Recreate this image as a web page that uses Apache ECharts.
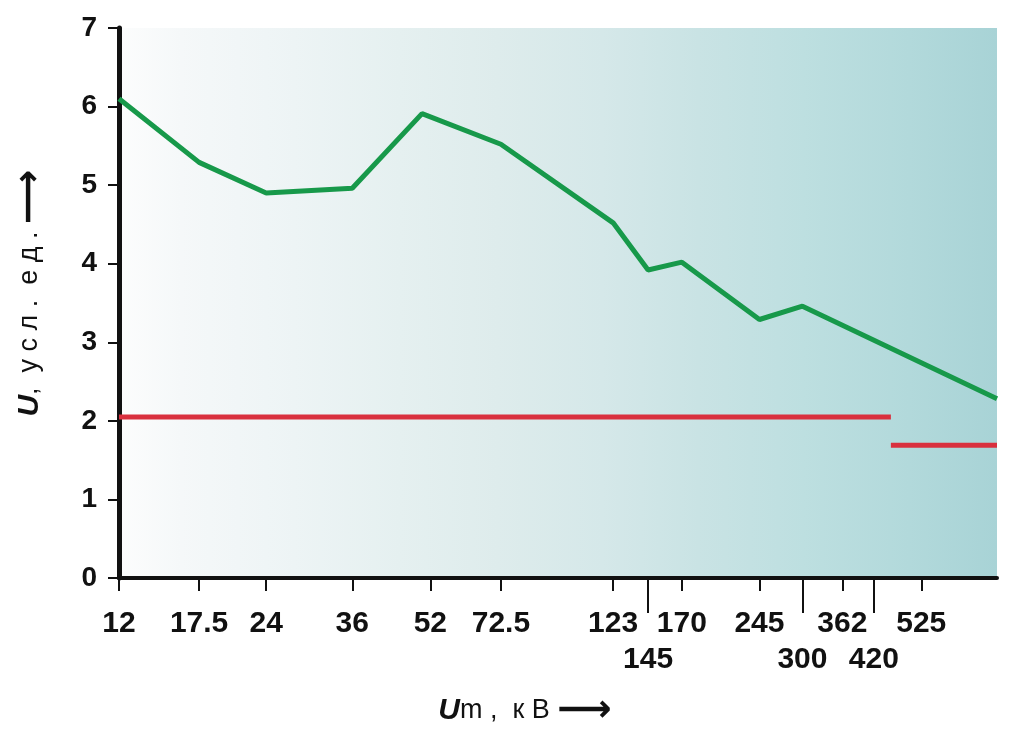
<!DOCTYPE html>
<html>
<head>
<meta charset="utf-8">
<script src="https://cdn.jsdelivr.net/npm/echarts@6/dist/echarts.min.js"></script>
<style>
  html, body { margin: 0; padding: 0; background: #fff; }
  #chart { width: 1009px; height: 735px; }
</style>
</head>
<body>
<div id="chart"></div>
<script>
// x ticks (kV) on a log axis; the lower row sits on long ticks
const xTicksTop = [12, 17.5, 24, 36, 52, 72.5, 123, 170, 245, 362, 525];
const xTicksLong = [145, 300, 420];
const xMin = 12;
const xMax = 750;

// green curve
const greenX = [12, 17.5, 24, 36, 50, 72.5, 123, 145, 170, 245, 300, 750];
const greenY = [6.1, 5.29, 4.9, 4.96, 5.91, 5.52, 4.52, 3.92, 4.02, 3.29, 3.46, 2.28];

// red levels
const redHighX = [12, 455];
const redHighY = [2.05, 2.05];
const redLowX = [455, 750];
const redLowY = [1.69, 1.69];

const font = 'Liberation Sans, Arial, DejaVu Sans, sans-serif';
const pairs = (xs, ys) => xs.map((x, i) => [x, ys[i]]);
const kv = (v) => String(Math.round(v * 10) / 10);

const dom = document.getElementById('chart');
const myChart = echarts.init(dom, null, { renderer: 'canvas' });

const nameRich = {
  u: { fontFamily: font, fontSize: 30, fontWeight: 'bold', fontStyle: 'italic', color: '#111' },
  t: { fontFamily: font, fontSize: 27, color: '#111' },
  a: { fontFamily: 'DejaVu Sans, sans-serif', fontSize: 38, fontWeight: 'bold', color: '#111' },
};

const tickLabel = {
  fontFamily: font,
  fontSize: 30,
  fontWeight: 'bold',
  color: '#111',
  formatter: kv,
};

const option = {
  backgroundColor: '#ffffff',
  animation: false,
  grid: {
    left: 119,
    right: 12,
    top: 28,
    bottom: 155,
    show: true,
    borderWidth: 0,
    backgroundColor: new echarts.graphic.LinearGradient(0, 0, 1, 0, [
      { offset: 0, color: '#fcfdfd' },
      { offset: 0.07, color: '#f5f8f9' },
      { offset: 0.2, color: '#edf4f5' },
      { offset: 0.32, color: '#e5f0f0' },
      { offset: 0.43, color: '#deecec' },
      { offset: 0.55, color: '#d5e8e9' },
      { offset: 0.66, color: '#c9e3e4' },
      { offset: 0.78, color: '#bddfe0' },
      { offset: 0.9, color: '#b2d9db' },
      { offset: 1, color: '#a8d3d6' },
    ]),
  },
  xAxis: [
    {
      type: 'log',
      logBase: 10,
      min: xMin,
      max: xMax,
      position: 'bottom',
      name: '{u|U}{t|m ,  к В }{a|⟶}',
      nameLocation: 'middle',
      nameGap: 114,
      nameTextStyle: {
        padding: [0, 66, 0, 0],
        rich: nameRich,
      },
      axisLine: { show: true, lineStyle: { color: '#111', width: 4 } },
      axisTick: {
        show: true,
        length: 13,
        lineStyle: { color: '#111', width: 2 },
        customValues: xTicksTop,
      },
      axisLabel: Object.assign({ customValues: xTicksTop, margin: 31 }, tickLabel),
      splitLine: { show: false },
      minorTick: { show: false },
    },
    {
      type: 'log',
      logBase: 10,
      min: xMin,
      max: xMax,
      position: 'bottom',
      axisLine: { show: false },
      axisTick: {
        show: true,
        length: 35,
        lineStyle: { color: '#111', width: 2 },
        customValues: xTicksLong,
      },
      axisLabel: Object.assign({ customValues: xTicksLong, margin: 67 }, tickLabel),
      splitLine: { show: false },
      minorTick: { show: false },
    },
  ],
  yAxis: {
    type: 'value',
    min: 0,
    max: 7,
    interval: 1,
    name: '{u|U}{t|,  у с л .  е д . }{a|⟶}',
    nameLocation: 'middle',
    nameGap: 70,
    nameTextStyle: {
      padding: [0, 0, 0, 20],
      rich: nameRich,
    },
    axisLine: { show: true, lineStyle: { color: '#111', width: 5 } },
    axisTick: { show: true, length: 11, lineStyle: { color: '#111', width: 2 } },
    axisLabel: {
      margin: 22,
      fontFamily: font,
      fontSize: 28,
      fontWeight: 'bold',
      color: '#111',
    },
    splitLine: { show: false },
  },
  series: [
    {
      name: 'green',
      type: 'line',
      xAxisIndex: 0,
      data: pairs(greenX, greenY),
      symbol: 'none',
      lineStyle: { color: '#17994a', width: 5 },
      z: 5,
    },
    {
      name: 'redHigh',
      type: 'line',
      xAxisIndex: 0,
      data: pairs(redHighX, redHighY),
      symbol: 'none',
      lineStyle: { color: '#d9303e', width: 5, cap: 'butt' },
      z: 4,
    },
    {
      name: 'redLow',
      type: 'line',
      xAxisIndex: 0,
      data: pairs(redLowX, redLowY),
      symbol: 'none',
      lineStyle: { color: '#d9303e', width: 5, cap: 'butt' },
      z: 4,
    },
  ],
};

myChart.setOption(option);
window.addEventListener('resize', () => {
  myChart.resize();
});
</script>
</body>
</html>
